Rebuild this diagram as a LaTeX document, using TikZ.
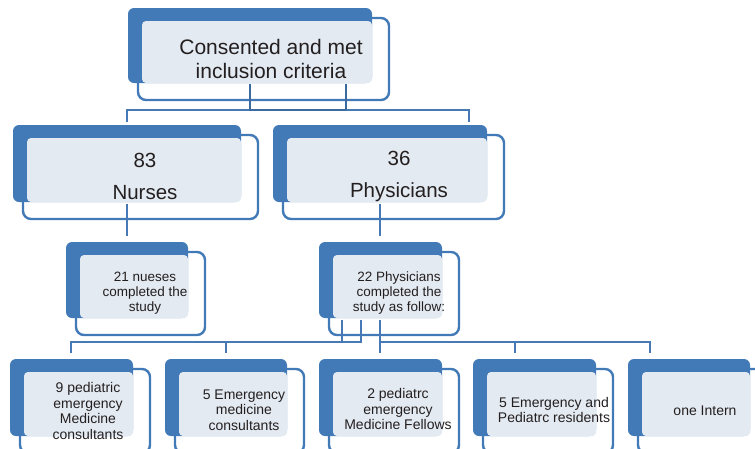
\documentclass[tikz,border=0pt]{standalone}
\usepackage{fontspec}
\setmainfont{Liberation Sans}
\definecolor{boxblue}{HTML}{4279B7}
\definecolor{boxlight}{HTML}{E4EAF1}
\definecolor{connblue}{HTML}{4679B5}
\definecolor{conndark}{HTML}{3A6A9F}
\definecolor{txtgray}{HTML}{231F20}
\tikzset{
  backbox/.style={fill=boxblue, rounded corners=6pt, inner sep=0pt, outer sep=0pt, anchor=north west},
  lightbox/.style={fill=boxlight, rounded corners=4pt, inner sep=0pt, outer sep=0pt, anchor=north west},
  outlbox/.style={draw=boxblue, line width=2.4pt, rounded corners=8pt, inner sep=0pt, outer sep=0pt, anchor=north west},
  conn/.style={draw=connblue, line width=2.4pt},
  conndk/.style={draw=conndark, line width=2.4pt},
  bigtxt/.style={text=txtgray, align=center, inner sep=0pt, font=\fontsize{21}{24.5}\selectfont},
  numtxt/.style={text=txtgray, align=center, inner sep=0pt, font=\fontsize{20.5}{32}\selectfont},
  midtxt/.style={text=txtgray, align=center, inner sep=0pt, font=\fontsize{13.5}{15}\selectfont},
  smalltxt/.style={text=txtgray, align=center, inner sep=0pt, font=\fontsize{14}{15.5}\selectfont},
}
% #1 name, #2 x0, #3 y0, #4 x1, #5 y1
\newcommand\orgbox[5]{%
  \pgfmathsetmacro\bw{#4-#2}\pgfmathsetmacro\bh{#5-#3}%
  \pgfmathsetmacro\lw{#4-#2-14}\pgfmathsetmacro\lh{#5-#3-13}%
  \pgfmathsetmacro\ow{#4-#2+7}\pgfmathsetmacro\oh{#5-#3+7}%
  \node[backbox, minimum width=\bw pt, minimum height=\bh pt] (#1-back) at (#2,#3) {};
  \node[outlbox, minimum width=\ow pt, minimum height=\oh pt] (#1-outl) at ({#2+10},{#3+10}) {};
  \node[lightbox, minimum width=\lw pt, minimum height=\lh pt] (#1-light) at ({#2+14},{#3+13}) {};
}
\begin{document}
\begin{tikzpicture}[x=1pt,y=-1pt]
\useasboundingbox (0,0) rectangle (755,448);
\clip (0,0) rectangle (755,448);

% boxes
\orgbox{top}{128}{8}{372}{83}
\orgbox{nur}{13}{125}{241}{202}
\orgbox{phy}{273}{125}{487}{202}
\orgbox{nurc}{66}{242}{188}{318}
\orgbox{phyc}{319}{242}{442}{318}
\orgbox{pem}{10}{359}{133}{436}
\orgbox{emc}{165}{359}{287}{436}
\orgbox{pef}{319}{359}{442}{436}
\orgbox{epr}{473}{359}{596}{436}
\orgbox{int}{628}{359}{750}{436}

% texts
\node[bigtxt] (t-top) at (271,59) {Consented and met\\inclusion criteria};
\node[numtxt] (t-nur) at (145,176) {83\\Nurses};
\node[numtxt] (t-phy) at (399,176) {36\\Physicians};
\node[midtxt] (t-nurc) at (145,293) {21 nueses\\completed the\\study};
\node[midtxt] (t-phyc) at (399,293) {22 Physicians\\completed the\\study as follow:};
\node[smalltxt] (t-pem) at (88,411) {9 pediatric\\emergency\\Medicine\\consultants};
\node[smalltxt] (t-emc) at (244,410) {5 Emergency\\medicine\\consultants};
\node[smalltxt] (t-pef) at (398,409) {2 pediatrc\\emergency\\Medicine Fellows};
\node[smalltxt] (t-epr) at (554,410) {5 Emergency and\\Pediatrc residents};
\node[smalltxt] (t-int) at (705,411) {one Intern};

% connector anchor coordinates
\coordinate (a1) at (250,84);
\coordinate (a2) at (346,84);
\coordinate (n-in) at (127,122);
\coordinate (p-in) at (469,122);
\coordinate (n-out) at (127,204);
\coordinate (nc-in) at (127,236);
\coordinate (p-out) at (380,204);
\coordinate (pc-in) at (380,236);
\coordinate (c1) at (342,320);
\coordinate (c2) at (361,320);
\coordinate (c3) at (380,320);
\coordinate (b1) at (71,353);
\coordinate (b2) at (226,353);
\coordinate (b3) at (380,353);
\coordinate (b4) at (515,353);
\coordinate (b5) at (650,353);

% top connectors
\draw[conn] (a2) |- (127,110) -- (n-in);
\draw[conn] (a1) |- (469,110) -- (p-in);
\draw[conndk] (a1) -- (250,110) -- (346,110);
\draw[conndk] (a2) -- (346,110);

% middle connectors
\draw[conn] (n-out) -- (nc-in);
\draw[conn] (p-out) -- (pc-in);

% bottom connectors
\draw[conn] (c1) |- (71,342) -- (b1);
\draw[conn] (c2) |- (226,342) -- (b2);
\draw[conn] (c3) -- (b3);
\draw[conn] (c3) |- (515,342) -- (b4);
\draw[conn] (c3) |- (650,342) -- (b5);
\end{tikzpicture}
\end{document}
